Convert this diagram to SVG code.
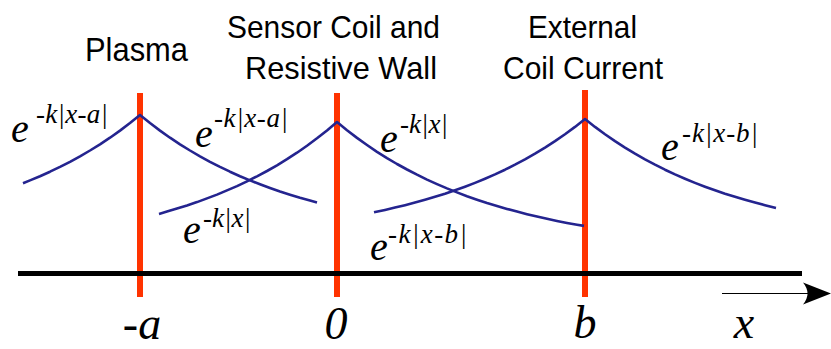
<svg xmlns="http://www.w3.org/2000/svg" width="831" height="349" viewBox="0 0 831 349">
<style>
.red{stroke:#ff3300;stroke-width:6;fill:none}
.axis{stroke:#000;stroke-width:5;fill:none}
.curve{stroke:#24248f;stroke-width:2.6;fill:none;stroke-linejoin:round;stroke-linecap:butt}
.title{font-family:"Liberation Sans",Arial,sans-serif;font-size:32px;fill:#000}
.m{font-family:"Liberation Serif","Times New Roman",serif;font-style:italic;fill:#000}
.e{font-size:40px}
.s{font-size:27px}
.ax{font-size:46px}
</style>
<rect width="831" height="349" fill="#fff"/>
<g id="plasma">
<line class="red" x1="140" y1="93" x2="140" y2="297"/>
<text class="title" x="136.5" y="61" text-anchor="middle" style="font-size:34px" textLength="103" lengthAdjust="spacingAndGlyphs">Plasma</text>
</g>
<g id="sensor">
<line class="red" x1="337" y1="93" x2="337" y2="297"/>
<text class="title" x="333.5" y="38" text-anchor="middle" textLength="213" lengthAdjust="spacingAndGlyphs">Sensor Coil and</text>
<text class="title" x="341" y="79" text-anchor="middle" textLength="192" lengthAdjust="spacingAndGlyphs">Resistive Wall</text>
</g>
<g id="external">
<line class="red" x1="585" y1="90" x2="585" y2="297"/>
<text class="title" x="582.5" y="38" text-anchor="middle" textLength="109" lengthAdjust="spacingAndGlyphs">External</text>
<text class="title" x="583" y="79" text-anchor="middle" textLength="160" lengthAdjust="spacingAndGlyphs">Coil Current</text>
</g>
<g id="axis">
<line class="axis" x1="18" y1="273.5" x2="802" y2="273.5"/>
<line x1="722" y1="293.5" x2="812" y2="293.5" stroke="#000" stroke-width="1.2"/>
<path d="M831,293.5 L803,282.5 Q812,293.5 803,304.5 Z" fill="#000"/>
<text class="m ax" x="142" y="339" text-anchor="middle">-a</text>
<text class="m ax" x="336" y="339" text-anchor="middle">0</text>
<text class="m ax" x="585" y="338" text-anchor="middle">b</text>
<text class="m ax" x="744" y="338" text-anchor="middle">x</text>
</g>
<g id="connectors">
<path class="curve" d="M23,183.2 L30,180.4 L40,176.2 L50,171.7 L60,166.9 L70,161.8 L80,156.3 L90,150.5 L100,144.3 L110,137.7 L120,130.6 L130,123.05 L140,115 L150,123.05 L160,130.6 L170,137.7 L180,144.3 L190,150.5 L200,156.3 L210,161.8 L220,166.9 L230,171.7 L240,176.2 L250,180.4 L260,184.3 L270,188 L280,191.5 L290,194.7 L300,197.8 L310,200.6 L317,202.5"/>
<path class="curve" d="M159,213.9 L167,211.6 L177,208.6 L187,205.5 L197,202.1 L207,198.4 L217,194.6 L227,190.4 L237,186.1 L247,181.3 L257,176.3 L267,171 L277,165.3 L287,159.2 L297,152.7 L307,145.7 L317,138.3 L327,130.4 L337,122 L347,130.2 L357,137.9 L367,145 L377,151.8 L387,158.1 L397,164 L407,169.5 L417,174.7 L427,179.6 L437,184.1 L447,188.4 L457,192.4 L467,196.2 L477,199.7 L487,203 L497,206 L507,208.9 L517,211.6 L527,214.2 L537,216.6 L547,218.8 L557,220.9 L567,222.9 L577,224.7 L584,225.9"/>
<path class="curve" d="M374,212.3 L385,209.9 L395,207.6 L405,205.2 L415,202.6 L425,199.8 L435,196.85 L445,193.7 L455,190.3 L465,186.7 L475,182.85 L485,178.75 L495,174.4 L505,169.7 L515,164.7 L525,159.4 L535,153.7 L545,147.6 L555,141.15 L565,134.2 L575,126.9 L585,119 L595,126.9 L605,134.2 L615,141.15 L625,147.6 L635,153.7 L645,159.4 L655,164.7 L665,169.7 L675,174.4 L685,178.75 L695,182.85 L705,186.7 L715,190.3 L725,193.7 L735,196.85 L745,199.8 L755,202.6 L765,205.2 L776,207.9"/>
</g>
<g id="label-1">
<text class="m e" x="11" y="142">e</text>
<text class="m s" x="36" y="123" textLength="72" lengthAdjust="spacing">-k|x-a|</text>
</g>
<g id="label-2">
<text class="m e" x="195" y="147">e</text>
<text class="m s" x="214" y="127" textLength="74" lengthAdjust="spacing">-k|x-a|</text>
</g>
<g id="label-3">
<text class="m e" x="183" y="243">e</text>
<text class="m s" x="203" y="227">-k|x|</text>
</g>
<g id="label-4">
<text class="m e" x="380" y="152">e</text>
<text class="m s" x="400" y="133">-k|x|</text>
</g>
<g id="label-5">
<text class="m e" x="370" y="260">e</text>
<text class="m s" x="388" y="243" textLength="79" lengthAdjust="spacing">-k|x-b|</text>
</g>
<g id="label-6">
<text class="m e" x="661" y="160">e</text>
<text class="m s" x="682" y="142" textLength="76" lengthAdjust="spacing">-k|x-b|</text>
</g>
</svg>
